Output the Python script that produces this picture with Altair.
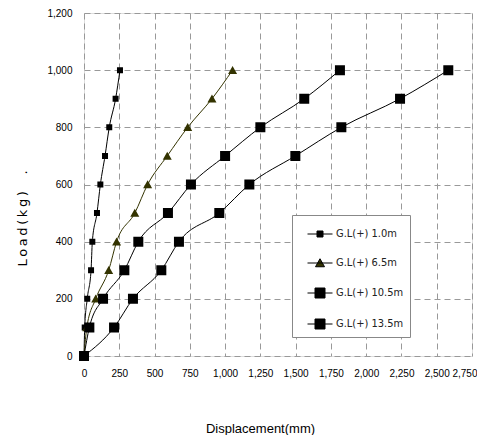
import altair as alt
import pandas as pd

loads = [0, 100, 200, 300, 400, 500, 600, 700, 800, 900, 1000]
series_names = ["G.L(+) 1.0m", "G.L(+) 6.5m", "G.L(+) 10.5m", "G.L(+) 13.5m"]
disp_10 = [0, 5, 23, 50, 59, 92, 116, 149, 179, 224, 255]
disp_65 = [0, 20, 83, 175, 231, 360, 451, 590, 735, 907, 1053]
disp_105 = [0, 38, 135, 286, 385, 595, 758, 1000, 1250, 1561, 1814]
disp_135 = [0, 213, 347, 548, 673, 959, 1172, 1498, 1824, 2240, 2582]
x_ticks = list(range(0, 2751, 250))
y_ticks = list(range(0, 1201, 200))

rows = []
for name, disp in zip(series_names, [disp_10, disp_65, disp_105, disp_135]):
    for i, (d, l) in enumerate(zip(disp, loads)):
        rows.append({"series": name, "grp": name, "disp": d, "load": l, "order": i})
df = pd.DataFrame(rows)

colors = ["#000000", "#333300", "#000000", "#000000"]
color_of = dict(zip(series_names, colors))
sorted_names = sorted(series_names)
sorted_colors = [color_of[n] for n in sorted_names]

shapes = [
    "M-1,0H1M-0.24,-0.24H0.24V0.24H-0.24Z",
    "M-1,0H1M0,-0.34L0.36,0.3L-0.36,0.3Z",
    "M-1,0H1M-0.4,-0.4H0.4V0.4H-0.4Z",
    "M-1,0H1M-0.4,-0.4H0.4V0.4H-0.4Z",
]

font = "DejaVu Sans Condensed, Liberation Sans Narrow, sans-serif"
y_title = "\u2009".join("Load(kg)") + "\u00a0\u00a0\u00a0\u00a0."
last_tick = x_ticks[-1]

x = alt.X("disp:Q", scale=alt.Scale(domain=[0, 2750], nice=False),
          axis=alt.Axis(values=x_ticks, format=",d", title="Displacement(mm)",
                        titleX=176, titleY=76, titleBaseline="alphabetic",
                        titleFontWeight="normal", titleFontSize=13,
                        labelPadding=12, ticks=False, domain=False,
                        labelOverlap=False, labelFlush=False,
                        labelAlign={"condition": {"test": f"datum.value >= {last_tick}", "value": "right"}, "value": "center"},
                        labelOffset={"condition": {"test": f"datum.value >= {last_tick}", "value": 5}, "value": 0},
                        gridDash=[6, 4], gridColor="#999999"))
y = alt.Y("load:Q", scale=alt.Scale(domain=[0, 1200], nice=False),
          axis=alt.Axis(values=y_ticks, format=",d", title=y_title,
                        titleX=-62, titleY=205, titleBaseline="middle",
                        titleAlign="center", titleFontWeight="normal",
                        titleFont="DejaVu Sans", titleFontSize=13,
                        labelPadding=12, ticks=False, labelFlush=False,
                        domain=False, gridDash=[6, 4], gridColor="#999999"))

lines = alt.Chart(df).mark_line(strokeWidth=1, interpolate="monotone").encode(
    x=x, y=y,
    stroke=alt.Stroke("grp:N", scale=alt.Scale(range=sorted_colors), legend=None),
    order="order:Q",
)

points = alt.Chart(df).mark_point(filled=True, opacity=1, size=625).encode(
    x=x, y=y,
    color=alt.Color("series:N", scale=alt.Scale(domain=series_names, range=colors),
                    legend=alt.Legend(title=None, orient="none", legendX=208, legendY=202,
                                      padding=6, symbolOffset=9, rowPadding=11,
                                      symbolSize=625,
                                      labelOffset=3, labelFontSize=11, labelFont=font,
                                      labelColor="#222222",
                                      strokeColor="#888888", fillColor="white",
                                      symbolStrokeWidth=1, symbolStrokeColor="black")),
    shape=alt.Shape("series:N", scale=alt.Scale(domain=series_names, range=shapes)),
    strokeWidth=alt.value(0),
)

chart = alt.layer(lines, points).properties(
    width=388, height=343,
    padding={"left": 76, "top": 5, "right": 5, "bottom": 79},
    autosize=alt.AutoSizeParams(type="none"),
).configure_view(stroke="#888888", strokeWidth=1.5).configure_axis(
    labelFont=font, titleFont=font, labelFontSize=11, labelColor="#222222",
    titleColor="#222222",
).configure(background="white")

chart.save("out.html", embed_options={"renderer": "svg", "actions": False})
